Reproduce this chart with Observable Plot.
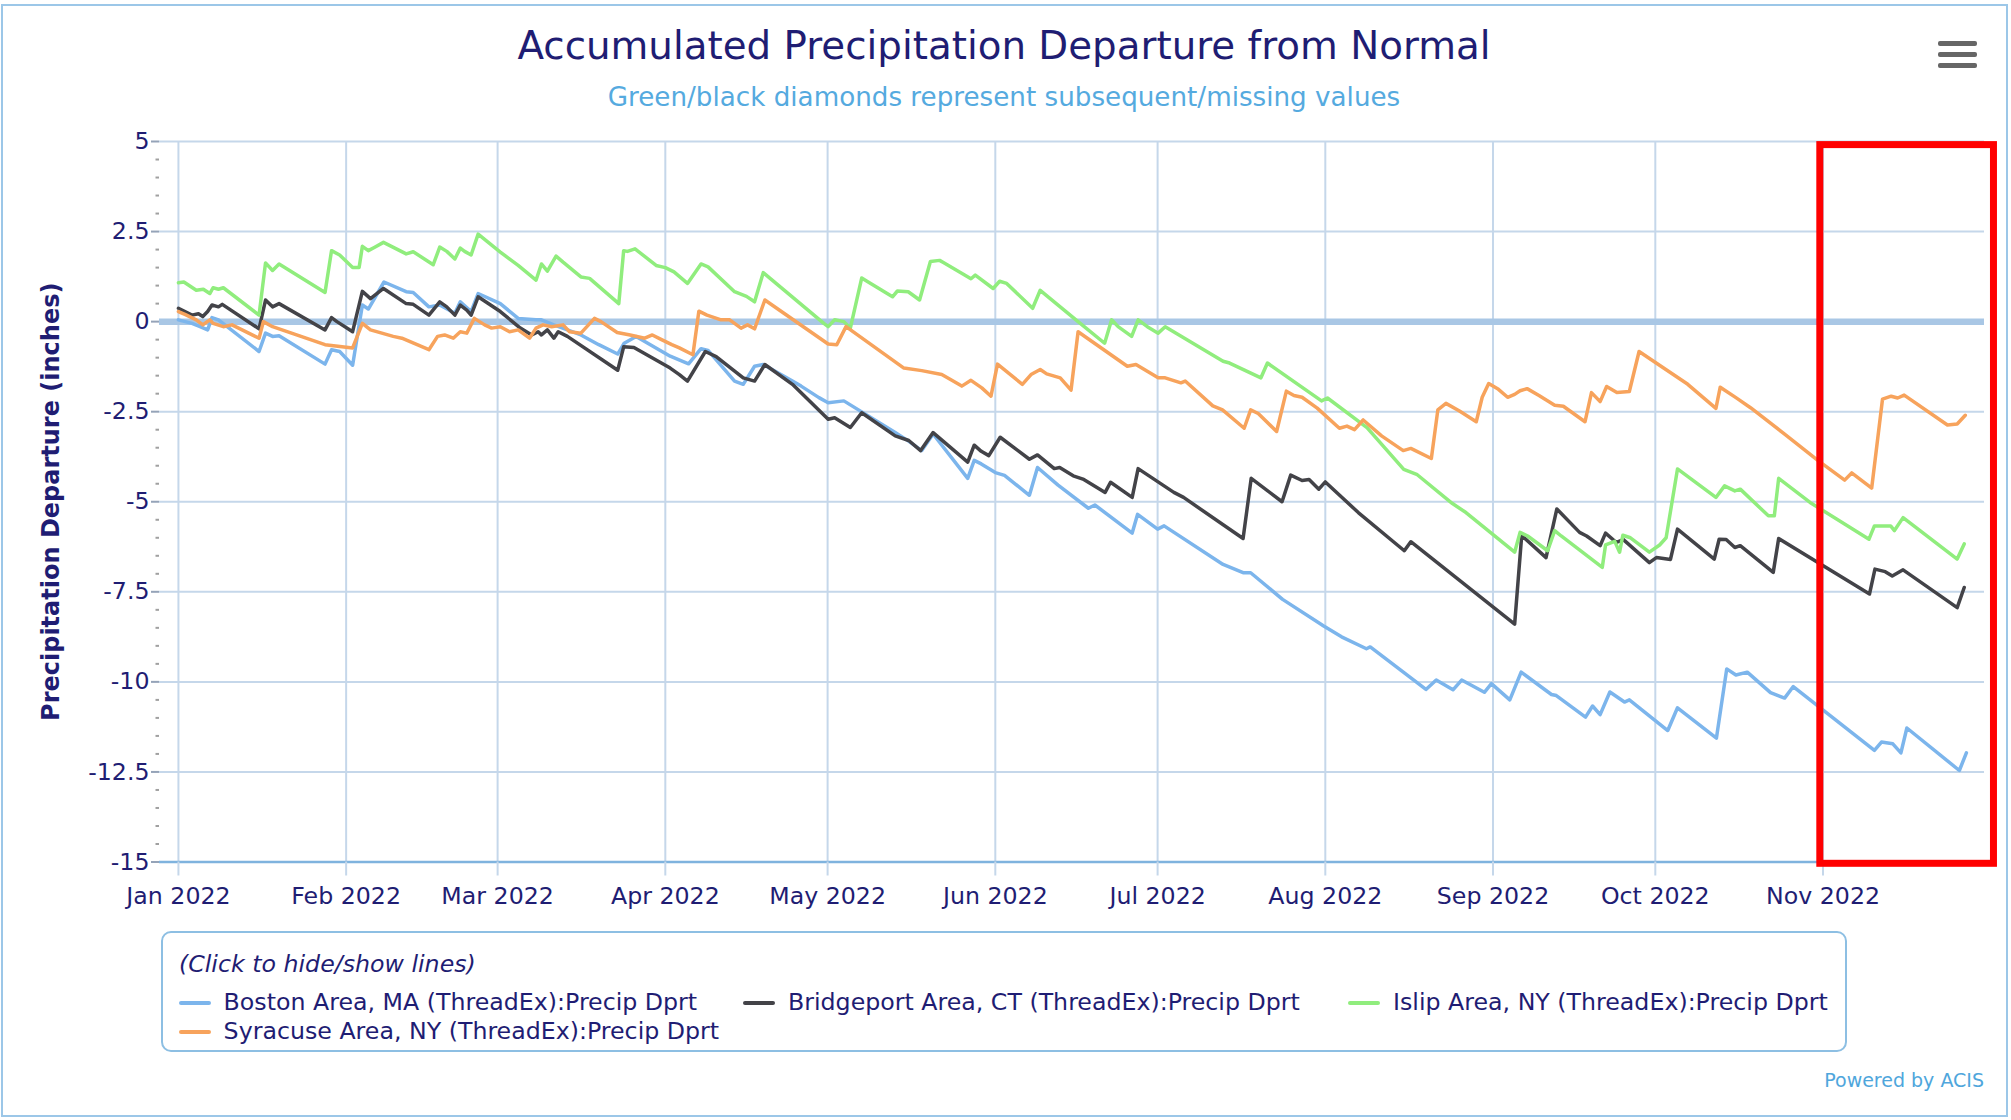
<!DOCTYPE html>
<html>
<head>
<meta charset="utf-8">
<script src="https://cdn.jsdelivr.net/npm/d3@7"></script>
<script src="https://cdn.jsdelivr.net/npm/@observablehq/plot@0.6"></script>
<style>
  html, body { margin: 0; padding: 0; background: #ffffff; }
  body { width: 2011px; height: 1120px; position: relative; overflow: hidden; font-family: "DejaVu Sans", sans-serif; }
  #frame { position: absolute; left: 1px; top: 4px; width: 2007px; height: 1113px; border: 2px solid #9cc7e8; box-sizing: border-box; }
  .abs { position: absolute; white-space: nowrap; line-height: 1; }
  #title { left: 0; width: 2008px; top: 27px; text-align: center; font-size: 38.8px; color: #1f1d73; }
  #subtitle { left: 0; width: 2008px; top: 84px; text-align: center; font-size: 26.2px; color: #55aadf; }
  #menu { position: absolute; left: 1938px; top: 41px; width: 39px; }
  #menu div { height: 5px; background: #666; border-radius: 2px; margin-bottom: 6px; }
  #chart { position: absolute; left: 0; top: 120px; }
  #legend { position: absolute; left: 161px; top: 931px; width: 1686px; height: 121px; border: 2px solid #8dbfe3; border-radius: 10px; box-sizing: border-box; }
  .legtext { font-size: 23.7px; color: #1f1d73; }
  .hint { font-style: italic; }
  .swatch { position: absolute; width: 32px; height: 4px; border-radius: 2px; }
  #credit { font-size: 19px; color: #4fa6dc; right: 27px; top: 1071px; }
  g[aria-label="y-axis label"] text { font-weight: bold; font-size: 24px; }
</style>
</head>
<body>
<div id="frame"></div>
<div id="title" class="abs">Accumulated Precipitation Departure from Normal</div>
<div id="subtitle" class="abs">Green/black diamonds represent subsequent/missing values</div>
<div id="menu"><div></div><div></div><div></div></div>
<div id="chart"></div>
<div id="legend"></div>
<div id="credit" class="abs">Powered by ACIS</div>
<script>
// ---- data: [day of 2022 (0 = Jan 1), accumulated departure in inches] ----
const seriesNames = [
  "Boston Area, MA (ThreadEx):Precip Dprt",
  "Bridgeport Area, CT (ThreadEx):Precip Dprt",
  "Islip Area, NY (ThreadEx):Precip Dprt",
  "Syracuse Area, NY (ThreadEx):Precip Dprt"
];
const seriesColors = ["#7cb5ec", "#434348", "#90ed7d", "#f7a35c"];

const boston = [[0,0.05],[2.5,-0.05],[4,-0.14],[5.4,-0.23],[6.2,0.11],[7.4,0.05],[14.9,-0.83],[16.1,-0.32],[17.4,-0.41],[18.6,-0.39],[27.1,-1.18],[28.3,-0.78],[29.8,-0.83],[32.2,-1.21],[34,0.46],[35.1,0.35],[38,1.1],[42.1,0.83],[43.4,0.81],[46.3,0.41],[48.3,0.46],[51.1,0.23],[52.1,0.55],[54.1,0.28],[55.4,0.78],[59.5,0.5],[62.8,0.09],[66.1,0.05],[67.1,0.05],[69.4,-0.09],[74.4,-0.37],[77.7,-0.64],[81.2,-0.9],[82.4,-0.6],[84.6,-0.41],[90.9,-0.96],[94.3,-1.17],[96.6,-0.75],[97.9,-0.8],[102.8,-1.65],[104.4,-1.74],[106.5,-1.24],[108.1,-1.19],[113.5,-1.65],[115.1,-1.79],[118.4,-2.11],[120.1,-2.25],[123,-2.2],[132.5,-3.08],[134.9,-3.31],[137.4,-3.58],[139.5,-3.12],[145.9,-4.35],[147.1,-3.85],[148.4,-3.95],[151,-4.19],[152.7,-4.27],[157.3,-4.82],[158.8,-4.05],[162.6,-4.54],[168.2,-5.18],[169.4,-5.09],[176.3,-5.87],[177.3,-5.35],[181,-5.76],[182.2,-5.67],[193.1,-6.74],[196.8,-6.97],[198.2,-6.97],[204.1,-7.71],[211.7,-8.45],[215,-8.75],[219.6,-9.08],[220.3,-9.03],[230.6,-10.21],[232.5,-9.95],[235.6,-10.22],[237.2,-9.95],[241.4,-10.29],[242.7,-10.05],[246.1,-10.5],[248.2,-9.73],[253.8,-10.35],[254.7,-10.38],[260.1,-10.98],[261.4,-10.67],[262.8,-10.91],[264.6,-10.28],[267.3,-10.56],[268.2,-10.5],[275.3,-11.35],[277.1,-10.72],[284.3,-11.56],[286.2,-9.64],[287.9,-9.81],[290,-9.73],[294.3,-10.3],[296.9,-10.45],[298.5,-10.13],[313.5,-11.9],[314.8,-11.67],[316.9,-11.72],[318.4,-11.97],[319.5,-11.28],[329.2,-12.46],[330.5,-11.97]];

const bridgeport = [[0,0.37],[1.2,0.28],[2.5,0.18],[3.7,0.22],[4.5,0.14],[5.4,0.28],[6.2,0.46],[7.4,0.41],[8.1,0.48],[14.9,-0.2],[16.1,0.6],[17.4,0.41],[18.6,0.5],[27.1,-0.23],[28.3,0.11],[29.3,0.0],[32.2,-0.28],[34,0.84],[35.5,0.64],[37.9,0.92],[42.1,0.5],[43.4,0.48],[46.3,0.18],[48.3,0.55],[49.6,0.41],[51.1,0.18],[52.1,0.46],[53.3,0.32],[54.1,0.18],[55.4,0.69],[59.5,0.28],[63.2,-0.18],[65.3,-0.37],[66.5,-0.28],[67.1,-0.37],[68.2,-0.23],[69.4,-0.46],[70.2,-0.28],[71.9,-0.41],[81.2,-1.35],[82.3,-0.7],[84.2,-0.72],[90.9,-1.29],[92.6,-1.47],[94.1,-1.65],[97.4,-0.83],[99.4,-0.97],[104.4,-1.56],[106.5,-1.65],[108.4,-1.19],[113.5,-1.74],[120.1,-2.71],[121.3,-2.67],[124.2,-2.94],[126.3,-2.53],[132.5,-3.17],[135,-3.3],[137.2,-3.58],[139.5,-3.08],[145.9,-3.9],[147.1,-3.43],[148.4,-3.6],[149.8,-3.72],[151.9,-3.21],[157.3,-3.82],[158.8,-3.7],[161.9,-4.08],[162.9,-4.05],[165.4,-4.28],[167.2,-4.37],[171.3,-4.74],[172.3,-4.46],[176.3,-4.88],[177.4,-4.08],[184,-4.74],[185.8,-4.88],[196.8,-6.02],[198.3,-4.35],[204,-5.0],[205.6,-4.26],[207.7,-4.41],[209,-4.38],[210.8,-4.65],[212,-4.45],[218.1,-5.3],[226.6,-6.36],[227.8,-6.11],[247,-8.4],[248.3,-5.94],[252.8,-6.55],[254.8,-5.2],[259,-5.85],[260.3,-5.95],[262.8,-6.22],[263.8,-5.87],[265.8,-6.13],[267.1,-6.05],[271.9,-6.69],[273.2,-6.55],[275.8,-6.6],[277.1,-5.76],[283.9,-6.59],[284.8,-6.04],[286.1,-6.05],[287.7,-6.27],[288.7,-6.22],[294.8,-6.96],[295.8,-6.02],[312.6,-7.56],[313.6,-6.87],[315.5,-6.94],[316.8,-7.06],[318.8,-6.89],[328.8,-7.94],[330.1,-7.38]];

const islip = [[0,1.08],[1,1.1],[3.3,0.87],[4.6,0.9],[5.8,0.78],[6.4,0.94],[7.4,0.9],[8.3,0.94],[14.9,0.18],[16.1,1.63],[17.4,1.42],[18.6,1.6],[27.1,0.81],[28.3,1.97],[29.8,1.85],[32.2,1.5],[33.4,1.5],[34,2.09],[35.1,1.97],[36.2,2.06],[37.9,2.2],[42.1,1.88],[43.4,1.94],[47.1,1.58],[48.3,2.07],[49.6,1.95],[51.1,1.74],[52.1,2.04],[52.9,1.95],[54.1,1.85],[55.4,2.43],[59.5,1.93],[62.8,1.56],[66.1,1.15],[67.1,1.6],[68.2,1.4],[69.8,1.82],[71.1,1.65],[74.4,1.24],[76,1.2],[81.4,0.5],[82.3,1.97],[83,1.95],[84.4,2.02],[88.3,1.56],[90,1.5],[91.6,1.38],[94.1,1.06],[96.6,1.6],[97.9,1.52],[102.8,0.83],[105,0.7],[106.5,0.55],[108.1,1.36],[119.3,-0.05],[120.1,-0.14],[121.3,0.05],[123,0.0],[124.2,-0.18],[126.3,1.21],[127.5,1.1],[132,0.69],[132.9,0.85],[134.9,0.83],[137,0.6],[139,1.67],[140.7,1.7],[141.4,1.64],[146.5,1.19],[147.3,1.29],[150.6,0.92],[151.8,1.12],[153.1,1.06],[157.9,0.37],[159.3,0.87],[166.3,0.0],[171.2,-0.6],[172.5,0.05],[173.7,-0.14],[176.2,-0.41],[177.4,0.05],[179.1,-0.14],[181.1,-0.32],[182.4,-0.14],[193.1,-1.1],[194.3,-1.15],[200.1,-1.56],[201.3,-1.15],[211.3,-2.2],[212.4,-2.12],[219.7,-2.94],[226.5,-4.1],[229,-4.25],[235.5,-5.05],[238,-5.3],[247,-6.4],[248,-5.85],[249.4,-5.95],[253.1,-6.36],[254.4,-5.8],[255.6,-5.95],[263.2,-6.82],[263.8,-6.2],[265.5,-6.1],[266.4,-6.4],[267,-5.93],[268.4,-6.0],[271.9,-6.4],[273.8,-6.2],[275,-6.0],[277.1,-4.09],[284.2,-4.88],[285.8,-4.56],[287.7,-4.7],[288.7,-4.65],[293.9,-5.39],[295,-5.39],[295.8,-4.35],[301.6,-5.02],[312.5,-6.04],[313.5,-5.67],[316.5,-5.67],[317.2,-5.8],[318.8,-5.44],[328.8,-6.59],[330.1,-6.17]];

const syracuse = [[0,0.28],[1.2,0.2],[3.3,0.05],[4.5,-0.09],[5.8,0.05],[6.4,-0.05],[8.3,-0.14],[9.9,-0.09],[14.9,-0.46],[15.7,0.0],[17.4,-0.14],[27.1,-0.64],[32.2,-0.73],[34,-0.05],[35.5,-0.23],[39.7,-0.41],[41.3,-0.46],[46.3,-0.78],[47.9,-0.41],[49.2,-0.37],[50.8,-0.46],[52.1,-0.28],[53.3,-0.32],[54.7,0.09],[56.6,-0.09],[57.9,-0.18],[59.5,-0.14],[61.2,-0.28],[62.8,-0.23],[64.9,-0.46],[66.1,-0.18],[67.4,-0.09],[69,-0.14],[71.1,-0.09],[72.3,-0.28],[74.4,-0.32],[76.9,0.09],[78.1,0.0],[81.1,-0.3],[83.5,-0.37],[86.2,-0.46],[87.6,-0.37],[89.3,-0.5],[91.2,-0.64],[92.6,-0.73],[95.1,-0.92],[96.2,0.29],[97.7,0.18],[100.3,0.05],[101.9,0.05],[104,-0.18],[105.2,-0.09],[106.5,-0.2],[108.4,0.6],[120.1,-0.62],[121.7,-0.64],[123.4,-0.14],[134.1,-1.29],[137.4,-1.36],[141.1,-1.47],[143.2,-1.65],[144.8,-1.79],[146.5,-1.63],[148.5,-1.84],[150.2,-2.07],[151.4,-1.18],[156,-1.74],[157.6,-1.47],[159.3,-1.33],[160.5,-1.45],[163,-1.56],[165,-1.9],[166.3,-0.28],[175.4,-1.24],[177,-1.19],[181.1,-1.56],[182.4,-1.56],[185.3,-1.7],[186.1,-1.65],[191.2,-2.34],[193,-2.45],[197,-2.96],[198.2,-2.45],[199.6,-2.55],[203,-3.05],[204.8,-1.93],[206.2,-2.05],[207.7,-2.1],[210.5,-2.4],[214.6,-2.96],[216,-2.9],[217.4,-3.0],[219,-2.73],[222.4,-3.17],[226.4,-3.58],[227.8,-3.52],[231.6,-3.8],[232.8,-2.45],[234.3,-2.27],[236.8,-2.48],[239.9,-2.78],[241,-2.1],[242.2,-1.72],[244,-1.88],[245.7,-2.1],[247,-2.02],[248,-1.92],[249.3,-1.86],[251.5,-2.05],[254.4,-2.32],[256,-2.35],[260,-2.78],[261.2,-1.97],[262.8,-2.22],[264,-1.8],[265.9,-1.97],[268.2,-1.94],[270,-0.83],[279,-1.74],[284.2,-2.41],[285,-1.82],[287.9,-2.11],[290.6,-2.39],[296.9,-3.12],[303.1,-3.86],[308,-4.4],[309.3,-4.2],[313,-4.62],[315,-2.15],[316.6,-2.07],[317.8,-2.12],[319,-2.04],[327,-2.87],[328.8,-2.84],[330.3,-2.6]];

const monthTicks = ["2022-01-01","2022-02-01","2022-03-01","2022-04-01","2022-05-01","2022-06-01","2022-07-01","2022-08-01","2022-09-01","2022-10-01","2022-11-01"];
const monthLabels = ["Jan 2022","Feb 2022","Mar 2022","Apr 2022","May 2022","Jun 2022","Jul 2022","Aug 2022","Sep 2022","Oct 2022","Nov 2022"];
const yTicks = [5, 2.5, 0, -2.5, -5, -7.5, -10, -12.5, -15];
// red highlight box (days of 2022 / inches)
const highlight = [{start: 303.5, end: 335.6, top: 4.9, bottom: -15.05}];

// ---- build ----
const day0 = Date.UTC(2022, 0, 1);
const toDate = d => new Date(day0 + d * 864e5);
const seriesData = [boston, bridgeport, islip, syracuse];
const ticks = monthTicks.map(s => new Date(s + "T00:00:00Z"));
const labelOf = new Map(ticks.map((t, i) => [+t, monthLabels[i]]));
const minorTicks = d3.range(-15, 5.001, 0.5).filter(v => !yTicks.includes(v));
const gridColor = "#c5d7ea";
const textColor = "#1f1d73";

const lineMarks = seriesData.map((arr, i) =>
  Plot.line(arr.map(([d, v]) => ({date: toDate(d), value: v})), {
    x: "date", y: "value", stroke: seriesColors[i], strokeWidth: 3.5, strokeLinejoin: "round"
  })
);

const chart = Plot.plot({
  width: 2011,
  height: 800,
  marginLeft: 159,
  marginRight: 27,
  marginTop: 21,
  marginBottom: 58.5,
  style: {fontFamily: "'DejaVu Sans', sans-serif", fontSize: "23.7px", color: textColor, background: "transparent", overflow: "visible"},
  x: {type: "utc", domain: [toDate(-3.5), toDate(333.85)]},
  y: {domain: [-15, 5]},
  marks: [
    Plot.gridY(yTicks, {stroke: gridColor, strokeOpacity: 1, strokeWidth: 2}),
    Plot.gridX(ticks, {stroke: gridColor, strokeOpacity: 1, strokeWidth: 2}),
    Plot.ruleY([0], {stroke: "#a9c7e5", strokeWidth: 6.5}),
    Plot.ruleY([-15], {stroke: "#7fb3de", strokeWidth: 2.5}),
    Plot.axisX(ticks, {tickSize: 14, tickPadding: 11, stroke: gridColor, strokeWidth: 2, color: textColor, tickFormat: d => labelOf.get(+d), label: null}),
    Plot.axisY(minorTicks, {tickSize: 3.5, stroke: "#a0a0a0", strokeWidth: 2, tickFormat: () => "", label: null}),
    Plot.axisY(yTicks, {tickSize: 8, tickPadding: 2, stroke: "#95a3b8", strokeWidth: 2, color: textColor, tickFormat: d => String(d),
      label: "Precipitation Departure (inches)", labelAnchor: "center", labelOffset: 118, labelArrow: "none"}),
    ...lineMarks,
    Plot.rect(highlight, {x1: d => toDate(d.start), x2: d => toDate(d.end), y1: "bottom", y2: "top", fill: "none", stroke: "#ff0000", strokeWidth: 7})
  ]
});
document.getElementById("chart").appendChild(chart);

// ---- legend ----
const legendSlots = [{left: 178.6, row: 0}, {left: 743, row: 0}, {left: 1348, row: 0}, {left: 178.6, row: 1}];
const rowBaseline = [1011, 1040.5];
const fs = 23.7;
const body = document.body;
const hint = document.createElement("div");
hint.className = "abs legtext hint";
hint.textContent = "(Click to hide/show lines)";
hint.style.left = "179px";
hint.style.top = (973.5 - 0.846 * fs) + "px";
body.appendChild(hint);
seriesNames.forEach((name, i) => {
  const slot = legendSlots[i];
  const base = rowBaseline[slot.row];
  const sw = document.createElement("div");
  sw.className = "swatch";
  sw.style.background = seriesColors[i];
  sw.style.left = slot.left + "px";
  sw.style.top = (base - 8.3 - 2) + "px";
  body.appendChild(sw);
  const t = document.createElement("div");
  t.className = "abs legtext";
  t.textContent = name;
  t.style.left = (slot.left + 45) + "px";
  t.style.top = (base - 0.846 * fs) + "px";
  body.appendChild(t);
});
</script>
</body>
</html>
